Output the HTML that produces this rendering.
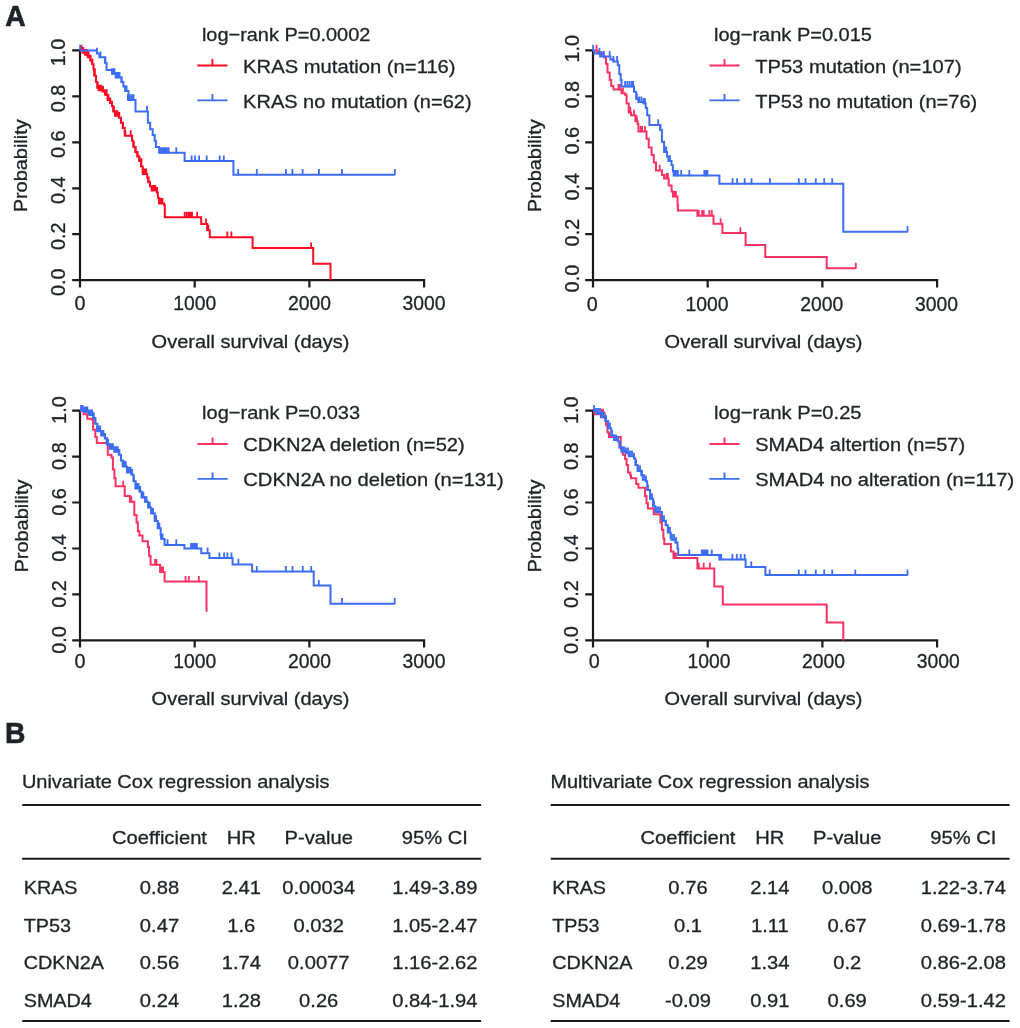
<!DOCTYPE html>
<html lang="en">
<head>
<meta charset="utf-8">
<title>Figure</title>
<style>
html,body{margin:0;padding:0;background:#fff;}
body{width:1020px;height:1028px;overflow:hidden;}
svg{display:block;}
text{white-space:pre;}
</style>
</head>
<body>
<svg width="1020" height="1028" viewBox="0 0 1020 1028" font-family="'Liberation Sans', sans-serif" font-size="19.5" fill="#1e2326" stroke="#1e2326" stroke-width="0.3">
<rect width="1020" height="1028" fill="#ffffff" stroke="none"/>
<text x="5.2" y="25.5" font-size="29.6" font-weight="bold" textLength="20.4" lengthAdjust="spacingAndGlyphs" stroke-width="0.7">A</text>
<text x="5.0" y="742.8" font-size="29.4" font-weight="bold" textLength="20.4" lengthAdjust="spacingAndGlyphs" stroke-width="0.7">B</text>
<path d="M80.0 49.3V281.3M78.9 280.2H425.2M80.0 280.2h-7.8M80.0 234.2h-7.8M80.0 188.3h-7.8M80.0 142.3h-7.8M80.0 96.4h-7.8M80.0 50.4h-7.8M80.0 280.2v7.2M194.7 280.2v7.2M309.4 280.2v7.2M424.1 280.2v7.2" fill="none" stroke="#1a1a1a" stroke-width="2.2" stroke-linecap="butt"/>
<text x="64.7" y="282.2" text-anchor="middle" textLength="27.6" lengthAdjust="spacingAndGlyphs" transform="rotate(-90 64.7 282.2)">0.0</text>
<text x="64.7" y="236.2" text-anchor="middle" textLength="27.6" lengthAdjust="spacingAndGlyphs" transform="rotate(-90 64.7 236.2)">0.2</text>
<text x="64.7" y="190.3" text-anchor="middle" textLength="27.6" lengthAdjust="spacingAndGlyphs" transform="rotate(-90 64.7 190.3)">0.4</text>
<text x="64.7" y="144.3" text-anchor="middle" textLength="27.6" lengthAdjust="spacingAndGlyphs" transform="rotate(-90 64.7 144.3)">0.6</text>
<text x="64.7" y="98.4" text-anchor="middle" textLength="27.6" lengthAdjust="spacingAndGlyphs" transform="rotate(-90 64.7 98.4)">0.8</text>
<text x="64.7" y="52.4" text-anchor="middle" textLength="27.6" lengthAdjust="spacingAndGlyphs" transform="rotate(-90 64.7 52.4)">1.0</text>
<text x="80.0" y="310.0" text-anchor="middle" textLength="11.0" lengthAdjust="spacingAndGlyphs">0</text>
<text x="194.7" y="310.0" text-anchor="middle" textLength="43.0" lengthAdjust="spacingAndGlyphs">1000</text>
<text x="309.4" y="310.0" text-anchor="middle" textLength="43.0" lengthAdjust="spacingAndGlyphs">2000</text>
<text x="424.1" y="310.0" text-anchor="middle" textLength="43.0" lengthAdjust="spacingAndGlyphs">3000</text>
<text x="250.5" y="347.5" text-anchor="middle" font-size="18.4" textLength="197.8" lengthAdjust="spacingAndGlyphs">Overall survival (days)</text>
<text x="27.4" y="165.8" text-anchor="middle" font-size="19.0" textLength="93.0" lengthAdjust="spacingAndGlyphs" transform="rotate(-90 27.4 165.8)">Probability</text>
<path d="M80.0 50.4H82.6V52.7H85.2V54.7H87.7V57.2H90.3V60.4H92.2V64.2H93.5V69.3H94.8V75.7H96.0V82.1H97.3V87.8H98.6V90.3H102.4V91.6H105.6V94.8H107.5V99.9H110.0V103.1H112.0V106.3H113.2V111.4H115.1V115.8H119.0V117.7H120.9V122.8H122.8V127.9H124.7V131.8H125.3V135.8H132.1V140.7H133.4V147.1H135.5V152.2H137.5V156.6H139.4V161.1H141.3V166.2H141.3V158.2H141.3V166.5H142.8V174.0H147.2V177.4H148.6V182.3H150.0V186.4H151.8V190.5H156.8V192.5H157.9V198.0H159.3V203.5H164.1V204.9H164.8V217.3H201.2V224.1H207.3V230.3H209.8V237.2H252.6V248.1H313.2V263.8H330.5V280.2" fill="none" stroke="#ff0a24" stroke-width="2.0" stroke-linejoin="miter"/>
<path d="M81.5 51.0v-6.2M83.3 53.3v-6.2M85.1 55.3v-6.2M86.9 55.3v-6.2M88.7 57.8v-6.2M90.5 61.0v-6.2M92.3 64.8v-6.2M94.1 76.3v-6.2M95.9 82.7v-6.2M97.7 88.4v-6.2M99.5 90.9v-6.2M101.3 90.9v-6.2M103.1 92.2v-6.2M104.9 95.4v-6.2M106.7 95.4v-6.2M108.5 100.5v-6.2M110.3 103.7v-6.2M112.1 106.9v-6.2M113.9 112.0v-6.2M115.7 116.4v-6.2M117.5 116.4v-6.2M119.3 118.3v-6.2M121.1 123.4v-6.2M122.9 128.5v-6.2M124.7 136.4v-6.2M130.7 136.4v-6.2M131.9 141.3v-6.2M133.7 147.7v-6.2M135.5 152.8v-6.2M137.3 157.2v-6.2M139.1 161.7v-6.2M140.9 167.1v-6.2M142.7 174.6v-6.2M144.5 174.6v-6.2M146.3 174.6v-6.2M146.3 174.6v-6.2M148.1 182.9v-6.2M149.9 187.0v-6.2M151.7 191.1v-6.2M153.5 191.1v-6.2M155.3 191.1v-6.2M157.1 193.1v-6.2M158.9 204.1v-6.2M160.7 204.1v-6.2M162.5 204.1v-6.2M184.7 217.9v-6.2M186.8 217.9v-6.2M188.8 217.9v-6.2M189.8 217.9v-6.2M190.9 217.9v-6.2M192.0 217.9v-6.2M197.1 217.9v-6.2M206.0 224.7v-6.2M207.3 230.9v-6.2M208.4 230.9v-6.2M227.3 237.8v-6.2M231.4 237.8v-6.2M311.1 248.7v-6.2" fill="none" stroke="#ff0a24" stroke-width="1.8"/>
<path d="M80.0 50.4H96.9V53.4H99.5V57.2H105.3V62.9H106.6V70.0H112.0V73.8H115.8V77.6H121.5V82.1H123.4V86.5H125.3V91.0H128.5V99.9H135.5V111.4H147.9V122.8H150.2V129.2H152.7V135.0H154.7V140.7H155.9V147.1H159.1V152.8H184.6V161.1H233.4V174.7H394.8" fill="none" stroke="#3d6df5" stroke-width="2.0" stroke-linejoin="miter"/>
<path d="M80.1 51.0v-6.2M96.9 54.0v-6.2M100.5 57.8v-6.2M105.0 63.5v-6.2M112.0 74.4v-6.2M113.2 74.4v-6.2M114.5 74.4v-6.2M115.8 78.2v-6.2M117.1 78.2v-6.2M118.3 78.2v-6.2M119.6 78.2v-6.2M121.5 82.7v-6.2M125.3 91.6v-6.2M126.6 91.6v-6.2M127.9 100.5v-6.2M129.8 100.5v-6.2M131.7 100.5v-6.2M133.6 100.5v-6.2M147.0 112.0v-6.2M160.4 153.4v-6.2M161.7 153.4v-6.2M162.9 153.4v-6.2M164.2 153.4v-6.2M165.5 153.4v-6.2M166.8 153.4v-6.2M168.7 153.4v-6.2M176.3 153.4v-6.2M191.6 161.7v-6.2M195.0 161.7v-6.2M199.1 161.7v-6.2M206.7 161.7v-6.2M219.7 161.7v-6.2M223.8 161.7v-6.2M238.2 175.3v-6.2M256.8 175.3v-6.2M285.9 175.3v-6.2M292.4 175.3v-6.2M302.6 175.3v-6.2M318.9 175.3v-6.2M342.0 175.3v-6.2M394.8 175.3v-6.2" fill="none" stroke="#3d6df5" stroke-width="1.8"/>
<text x="201.9" y="41.3" font-size="19.0" textLength="168.5" lengthAdjust="spacingAndGlyphs">log−rank P=0.0002</text>
<path d="M197.3 65.5h30.2M212.4 66.1v-7" fill="none" stroke="#ff0a24" stroke-width="1.9"/>
<path d="M197.3 100.4h30.2M212.4 101.0v-7" fill="none" stroke="#3d6df5" stroke-width="1.9"/>
<text x="243.1" y="72.7" font-size="19.0" textLength="212.5" lengthAdjust="spacingAndGlyphs">KRAS mutation (n=116)</text>
<text x="243.1" y="107.6" font-size="19.0" textLength="228.5" lengthAdjust="spacingAndGlyphs">KRAS no mutation (n=62)</text>
<path d="M593.0 49.3V281.3M591.9 280.2H938.2M593.0 280.2h-7.8M593.0 234.2h-7.8M593.0 188.3h-7.8M593.0 142.3h-7.8M593.0 96.4h-7.8M593.0 50.4h-7.8M593.0 280.2v7.2M707.7 280.2v7.2M822.4 280.2v7.2M937.1 280.2v7.2" fill="none" stroke="#1a1a1a" stroke-width="2.2" stroke-linecap="butt"/>
<text x="579.0" y="278.6" text-anchor="middle" textLength="27.6" lengthAdjust="spacingAndGlyphs" transform="rotate(-90 579.0 278.6)">0.0</text>
<text x="579.0" y="232.6" text-anchor="middle" textLength="27.6" lengthAdjust="spacingAndGlyphs" transform="rotate(-90 579.0 232.6)">0.2</text>
<text x="579.0" y="186.7" text-anchor="middle" textLength="27.6" lengthAdjust="spacingAndGlyphs" transform="rotate(-90 579.0 186.7)">0.4</text>
<text x="579.0" y="140.7" text-anchor="middle" textLength="27.6" lengthAdjust="spacingAndGlyphs" transform="rotate(-90 579.0 140.7)">0.6</text>
<text x="579.0" y="94.8" text-anchor="middle" textLength="27.6" lengthAdjust="spacingAndGlyphs" transform="rotate(-90 579.0 94.8)">0.8</text>
<text x="579.0" y="48.8" text-anchor="middle" textLength="27.6" lengthAdjust="spacingAndGlyphs" transform="rotate(-90 579.0 48.8)">1.0</text>
<text x="592.3" y="311.2" text-anchor="middle" textLength="11.0" lengthAdjust="spacingAndGlyphs">0</text>
<text x="707.0" y="311.2" text-anchor="middle" textLength="43.0" lengthAdjust="spacingAndGlyphs">1000</text>
<text x="821.7" y="311.2" text-anchor="middle" textLength="43.0" lengthAdjust="spacingAndGlyphs">2000</text>
<text x="936.4" y="311.2" text-anchor="middle" textLength="43.0" lengthAdjust="spacingAndGlyphs">3000</text>
<text x="763.5" y="347.5" text-anchor="middle" font-size="18.4" textLength="197.8" lengthAdjust="spacingAndGlyphs">Overall survival (days)</text>
<text x="540.9" y="165.8" text-anchor="middle" font-size="19.0" textLength="93.0" lengthAdjust="spacingAndGlyphs" transform="rotate(-90 540.9 165.8)">Probability</text>
<path d="M593.0 50.4H597.2V52.1H599.4V53.5H603.8V57.2H606.0V63.8H607.5V72.6H609.7V80.0H611.2V85.9H613.4V89.6H621.5V93.2H625.1V94.7H626.6V103.5H628.8V112.4H631.0V115.3H635.4V121.2H637.6V124.1H638.4V131.5H646.5V138.8H648.7V147.6H651.6V155.0H653.8V162.4H656.0V170.4H661.9V174.9H664.1V178.5H668.7V185.6H671.6V191.5H673.1V196.6H677.5V204.7H677.9V210.6H697.4V215.7H713.5V223.8H722.4V232.9H745.6V245.1H765.3V256.9H826.7V268.3H855.8" fill="none" stroke="#fa3263" stroke-width="2.0" stroke-linejoin="miter"/>
<path d="M596.5 51.0v-6.2M618.5 90.2v-6.2M620.0 90.2v-6.2M622.9 93.8v-6.2M628.8 113.0v-6.2M630.3 113.0v-6.2M634.0 115.9v-6.2M636.9 121.8v-6.2M640.6 132.1v-6.2M642.1 132.1v-6.2M645.0 132.1v-6.2M659.7 171.0v-6.2M666.5 179.1v-6.2M667.9 179.1v-6.2M673.1 197.2v-6.2M674.6 197.2v-6.2M676.0 197.2v-6.2M698.8 216.3v-6.2M702.1 216.3v-6.2M703.7 216.3v-6.2M709.4 216.3v-6.2M711.8 216.3v-6.2M720.6 224.4v-6.2M740.4 233.5v-6.2M855.8 268.9v-6.2" fill="none" stroke="#fa3263" stroke-width="1.8"/>
<path d="M593.0 50.4H594.3V53.5H600.1V56.5H610.4V59.4H613.4V61.6H617.8V65.3H619.3V74.1H620.7V80.0H621.5V86.6H634.0V91.8H636.2V99.1H638.4V102.1H643.5V103.5H645.7V107.9H647.2V115.3H649.4V124.9H660.4V130.0H661.9V141.8H664.1V152.1H667.1V156.5H668.5V160.9H671.5V165.3H672.9V171.2H673.7V175.6H719.4V183.8H843.3V231.7H907.5" fill="none" stroke="#3d6df5" stroke-width="2.0" stroke-linejoin="miter"/>
<path d="M593.1 51.0v-6.2M599.4 54.1v-6.2M601.6 57.1v-6.2M603.8 57.1v-6.2M609.7 57.1v-6.2M613.4 62.2v-6.2M617.1 62.2v-6.2M625.1 87.2v-6.2M627.4 87.2v-6.2M629.6 87.2v-6.2M631.8 87.2v-6.2M633.2 87.2v-6.2M636.9 99.7v-6.2M639.1 102.7v-6.2M641.3 102.7v-6.2M643.5 104.1v-6.2M645.0 104.1v-6.2M658.2 125.5v-6.2M660.0 130.6v-6.2M664.9 152.7v-6.2M666.3 152.7v-6.2M670.0 161.5v-6.2M674.6 176.2v-6.2M676.0 176.2v-6.2M677.9 176.2v-6.2M681.2 176.2v-6.2M689.3 176.2v-6.2M704.3 176.2v-6.2M705.7 176.2v-6.2M707.4 176.2v-6.2M732.6 184.4v-6.2M737.1 184.4v-6.2M744.7 184.4v-6.2M751.5 184.4v-6.2M769.9 184.4v-6.2M798.8 184.4v-6.2M805.5 184.4v-6.2M815.8 184.4v-6.2M824.2 184.4v-6.2M832.2 184.4v-6.2M907.5 232.3v-6.2" fill="none" stroke="#3d6df5" stroke-width="1.8"/>
<text x="714.0" y="41.3" font-size="19.0" textLength="158.0" lengthAdjust="spacingAndGlyphs">log−rank P=0.015</text>
<path d="M709.4 65.5h30.2M724.5 66.1v-7" fill="none" stroke="#fa3263" stroke-width="1.9"/>
<path d="M709.4 100.4h30.2M724.5 101.0v-7" fill="none" stroke="#3d6df5" stroke-width="1.9"/>
<text x="755.2" y="72.7" font-size="19.0" textLength="206.5" lengthAdjust="spacingAndGlyphs">TP53 mutation (n=107)</text>
<text x="755.2" y="107.6" font-size="19.0" textLength="222.0" lengthAdjust="spacingAndGlyphs">TP53 no mutation (n=76)</text>
<path d="M80.0 409.5V641.5M78.9 640.4H425.2M80.0 640.4h-7.8M80.0 594.4h-7.8M80.0 548.5h-7.8M80.0 502.5h-7.8M80.0 456.6h-7.8M80.0 410.6h-7.8M80.0 640.4v7.2M194.7 640.4v7.2M309.4 640.4v7.2M424.1 640.4v7.2" fill="none" stroke="#1a1a1a" stroke-width="2.2" stroke-linecap="butt"/>
<text x="66.1" y="639.9" text-anchor="middle" textLength="27.6" lengthAdjust="spacingAndGlyphs" transform="rotate(-90 66.1 639.9)">0.0</text>
<text x="66.1" y="593.9" text-anchor="middle" textLength="27.6" lengthAdjust="spacingAndGlyphs" transform="rotate(-90 66.1 593.9)">0.2</text>
<text x="66.1" y="548.0" text-anchor="middle" textLength="27.6" lengthAdjust="spacingAndGlyphs" transform="rotate(-90 66.1 548.0)">0.4</text>
<text x="66.1" y="502.0" text-anchor="middle" textLength="27.6" lengthAdjust="spacingAndGlyphs" transform="rotate(-90 66.1 502.0)">0.6</text>
<text x="66.1" y="456.1" text-anchor="middle" textLength="27.6" lengthAdjust="spacingAndGlyphs" transform="rotate(-90 66.1 456.1)">0.8</text>
<text x="66.1" y="410.1" text-anchor="middle" textLength="27.6" lengthAdjust="spacingAndGlyphs" transform="rotate(-90 66.1 410.1)">1.0</text>
<text x="80.0" y="667.5" text-anchor="middle" textLength="11.0" lengthAdjust="spacingAndGlyphs">0</text>
<text x="194.7" y="667.5" text-anchor="middle" textLength="43.0" lengthAdjust="spacingAndGlyphs">1000</text>
<text x="309.4" y="667.5" text-anchor="middle" textLength="43.0" lengthAdjust="spacingAndGlyphs">2000</text>
<text x="424.1" y="667.5" text-anchor="middle" textLength="43.0" lengthAdjust="spacingAndGlyphs">3000</text>
<text x="250.5" y="704.5" text-anchor="middle" font-size="18.4" textLength="197.8" lengthAdjust="spacingAndGlyphs">Overall survival (days)</text>
<text x="27.9" y="526.0" text-anchor="middle" font-size="19.0" textLength="93.0" lengthAdjust="spacingAndGlyphs" transform="rotate(-90 27.9 526.0)">Probability</text>
<path d="M80.0 410.6H83.5V414.3H87.2V418.7H91.6V419.4H93.1V429.7H95.3V437.1H96.8V442.9H107.8V454.7H111.5V457.6H112.9V469.4H114.4V478.2H115.6V486.3H124.7V495.9H129.9V501.8H134.3V515.0H136.5V522.4H137.9V531.2H139.4V535.6H142.5V541.2H147.9V547.1H149.1V555.9H150.6V564.7H160.1V572.1H164.6V581.6H206.5V611.8" fill="none" stroke="#fa3263" stroke-width="2.0" stroke-linejoin="miter"/>
<path d="M107.1 443.5v-6.2M123.2 486.9v-6.2M131.3 502.4v-6.2M155.0 565.3v-6.2M156.5 565.3v-6.2M161.6 572.7v-6.2M163.1 572.7v-6.2M185.6 582.2v-6.2M188.8 582.2v-6.2M198.8 582.2v-6.2" fill="none" stroke="#fa3263" stroke-width="1.8"/>
<path d="M80.0 410.6H84.3V412.1H89.4V415.0H93.1V417.9H95.3V423.8H97.5V431.2H101.2V435.6H104.9V438.5H107.1V444.4H110.0V448.8H114.4V451.8H118.8V454.7H121.0V460.6H123.2V466.5H126.9V472.4H131.3V474.6H133.5V481.2H135.7V488.5H139.4V491.5H141.6V497.4H145.3V501.8H148.2V507.6H151.2V513.5H154.9V520.9H157.8V528.2H160.7V535.6H161.6V539.0H164.6V544.9H184.4V548.5H201.3V553.2H209.4V558.1H232.6V564.4H252.1V571.6H313.7V585.5H330.5V603.7H394.7" fill="none" stroke="#3d6df5" stroke-width="2.0" stroke-linejoin="miter"/>
<path d="M81.0 411.2v-6.2M82.6 411.2v-6.2M84.2 412.7v-6.2M85.8 412.7v-6.2M87.4 412.7v-6.2M89.0 415.6v-6.2M90.6 415.6v-6.2M92.2 415.6v-6.2M93.8 418.5v-6.2M95.4 424.4v-6.2M97.0 431.8v-6.2M98.6 431.8v-6.2M100.2 431.8v-6.2M101.8 436.2v-6.2M103.4 436.2v-6.2M105.0 439.1v-6.2M106.6 445.0v-6.2M108.2 445.0v-6.2M109.8 449.4v-6.2M111.4 449.4v-6.2M113.0 449.4v-6.2M114.6 452.4v-6.2M116.2 452.4v-6.2M117.8 452.4v-6.2M119.4 455.3v-6.2M121.0 461.2v-6.2M122.6 467.1v-6.2M124.2 467.1v-6.2M125.8 467.1v-6.2M127.4 473.0v-6.2M129.0 473.0v-6.2M130.6 473.0v-6.2M132.2 475.2v-6.2M133.8 481.8v-6.2M135.4 489.1v-6.2M137.0 489.1v-6.2M138.6 489.1v-6.2M140.2 492.1v-6.2M141.8 498.0v-6.2M143.4 498.0v-6.2M145.0 502.4v-6.2M146.6 502.4v-6.2M148.2 508.2v-6.2M149.8 508.2v-6.2M151.4 514.1v-6.2M153.0 514.1v-6.2M154.6 521.5v-6.2M156.2 521.5v-6.2M157.8 528.8v-6.2M159.4 528.8v-6.2M161.0 539.6v-6.2M162.6 539.6v-6.2M167.5 545.5v-6.2M176.3 545.5v-6.2M191.0 549.1v-6.2M192.5 549.1v-6.2M194.0 549.1v-6.2M195.4 549.1v-6.2M196.9 549.1v-6.2M207.6 553.8v-6.2M219.4 558.7v-6.2M224.1 558.7v-6.2M227.4 558.7v-6.2M231.5 558.7v-6.2M238.4 565.0v-6.2M256.8 572.2v-6.2M285.8 572.2v-6.2M292.5 572.2v-6.2M302.8 572.2v-6.2M311.2 572.2v-6.2M318.8 586.1v-6.2M342.0 604.3v-6.2M394.7 604.3v-6.2" fill="none" stroke="#3d6df5" stroke-width="1.8"/>
<text x="202.1" y="419.3" font-size="19.0" textLength="158.0" lengthAdjust="spacingAndGlyphs">log−rank P=0.033</text>
<path d="M197.5 444.0h30.2M212.6 444.6v-7" fill="none" stroke="#fa3263" stroke-width="1.9"/>
<path d="M197.5 478.9h30.2M212.6 479.5v-7" fill="none" stroke="#3d6df5" stroke-width="1.9"/>
<text x="243.3" y="451.2" font-size="19.0" textLength="221.5" lengthAdjust="spacingAndGlyphs">CDKN2A deletion (n=52)</text>
<text x="243.3" y="486.1" font-size="19.0" textLength="260.5" lengthAdjust="spacingAndGlyphs">CDKN2A no deletion (n=131)</text>
<path d="M593.0 409.5V641.5M591.9 640.4H938.2M593.0 640.4h-7.8M593.0 594.4h-7.8M593.0 548.5h-7.8M593.0 502.5h-7.8M593.0 456.6h-7.8M593.0 410.6h-7.8M593.0 640.4v7.2M707.7 640.4v7.2M822.4 640.4v7.2M937.1 640.4v7.2" fill="none" stroke="#1a1a1a" stroke-width="2.2" stroke-linecap="butt"/>
<text x="577.6" y="640.1" text-anchor="middle" textLength="27.6" lengthAdjust="spacingAndGlyphs" transform="rotate(-90 577.6 640.1)">0.0</text>
<text x="577.6" y="594.1" text-anchor="middle" textLength="27.6" lengthAdjust="spacingAndGlyphs" transform="rotate(-90 577.6 594.1)">0.2</text>
<text x="577.6" y="548.2" text-anchor="middle" textLength="27.6" lengthAdjust="spacingAndGlyphs" transform="rotate(-90 577.6 548.2)">0.4</text>
<text x="577.6" y="502.2" text-anchor="middle" textLength="27.6" lengthAdjust="spacingAndGlyphs" transform="rotate(-90 577.6 502.2)">0.6</text>
<text x="577.6" y="456.3" text-anchor="middle" textLength="27.6" lengthAdjust="spacingAndGlyphs" transform="rotate(-90 577.6 456.3)">0.8</text>
<text x="577.6" y="410.3" text-anchor="middle" textLength="27.6" lengthAdjust="spacingAndGlyphs" transform="rotate(-90 577.6 410.3)">1.0</text>
<text x="594.2" y="667.9" text-anchor="middle" textLength="11.0" lengthAdjust="spacingAndGlyphs">0</text>
<text x="708.9" y="667.9" text-anchor="middle" textLength="43.0" lengthAdjust="spacingAndGlyphs">1000</text>
<text x="823.6" y="667.9" text-anchor="middle" textLength="43.0" lengthAdjust="spacingAndGlyphs">2000</text>
<text x="938.3" y="667.9" text-anchor="middle" textLength="43.0" lengthAdjust="spacingAndGlyphs">3000</text>
<text x="763.5" y="704.5" text-anchor="middle" font-size="18.4" textLength="197.8" lengthAdjust="spacingAndGlyphs">Overall survival (days)</text>
<text x="540.9" y="526.0" text-anchor="middle" font-size="19.0" textLength="93.0" lengthAdjust="spacingAndGlyphs" transform="rotate(-90 540.9 526.0)">Probability</text>
<path d="M593.0 410.6H594.3V414.3H604.6V417.9H606.0V425.3H607.5V432.6H609.0V437.1H620.7V448.8H622.9V454.7H625.1V459.1H626.6V465.0H628.1V472.4H630.3V475.3H631.0V478.2H636.2V484.1H638.4V487.8H645.0V495.9H646.5V503.2H647.9V508.4H653.8V514.3H660.4V522.4H661.9V529.7H663.4V538.5H664.3V544.1H670.9V551.5H673.5V558.1H697.4V568.4H714.3V586.5H722.8V604.4H826.7V622.5H843.3V640.5" fill="none" stroke="#fa3263" stroke-width="2.0" stroke-linejoin="miter"/>
<path d="M601.6 414.9v-6.2M603.1 414.9v-6.2M604.6 418.5v-6.2M674.6 558.7v-6.2M676.0 558.7v-6.2M698.8 569.0v-6.2M703.7 569.0v-6.2M709.9 569.0v-6.2" fill="none" stroke="#fa3263" stroke-width="1.8"/>
<path d="M593.0 410.6H596.5V413.5H600.9V417.2H605.3V420.9H608.2V428.2H611.2V435.6H614.1V440.0H617.8V441.5H619.3V447.4H621.5V451.8H625.9V453.2H628.8V456.2H634.0V458.4H635.4V465.0H637.6V470.9H641.3V475.3H642.8V479.7H645.7V481.2H647.2V490.0H650.1V498.8H653.1V506.2H655.3V512.1H661.9V520.9H665.6V525.3H667.8V532.6H670.7V538.5H671.6V539.7H675.3V542.6H677.5V548.5H678.2V555.1H719.4V559.6H745.6V566.9H765.4V575.0H907.5" fill="none" stroke="#3d6df5" stroke-width="2.0" stroke-linejoin="miter"/>
<path d="M594.0 411.2v-6.2M596.0 414.1v-6.2M598.0 414.1v-6.2M600.0 414.1v-6.2M602.0 417.8v-6.2M604.0 417.8v-6.2M606.0 421.5v-6.2M608.0 428.8v-6.2M610.0 428.8v-6.2M612.0 436.2v-6.2M614.0 440.6v-6.2M616.0 440.6v-6.2M618.0 442.1v-6.2M620.0 448.0v-6.2M622.0 452.4v-6.2M624.0 452.4v-6.2M626.0 453.8v-6.2M628.0 453.8v-6.2M630.0 456.8v-6.2M632.0 456.8v-6.2M634.0 459.0v-6.2M636.0 465.6v-6.2M638.0 471.5v-6.2M640.0 471.5v-6.2M642.0 475.9v-6.2M644.0 480.3v-6.2M646.0 481.8v-6.2M648.0 490.6v-6.2M650.0 499.4v-6.2M652.0 499.4v-6.2M654.0 506.8v-6.2M656.0 512.7v-6.2M658.0 512.7v-6.2M660.0 512.7v-6.2M662.0 521.5v-6.2M664.0 521.5v-6.2M666.0 525.9v-6.2M668.0 533.2v-6.2M670.0 533.2v-6.2M672.0 540.3v-6.2M674.0 540.3v-6.2M676.0 543.2v-6.2M689.3 555.7v-6.2M701.8 555.7v-6.2M703.2 555.7v-6.2M704.7 555.7v-6.2M706.2 555.7v-6.2M707.6 555.7v-6.2M711.8 555.7v-6.2M720.1 560.2v-6.2M721.2 560.2v-6.2M732.4 560.2v-6.2M736.8 560.2v-6.2M740.7 560.2v-6.2M744.7 560.2v-6.2M751.3 567.5v-6.2M769.7 575.6v-6.2M798.8 575.6v-6.2M805.5 575.6v-6.2M815.8 575.6v-6.2M824.2 575.6v-6.2M832.2 575.6v-6.2M855.3 575.6v-6.2M907.5 575.6v-6.2" fill="none" stroke="#3d6df5" stroke-width="1.8"/>
<text x="714.0" y="419.3" font-size="19.0" textLength="147.5" lengthAdjust="spacingAndGlyphs">log−rank P=0.25</text>
<path d="M709.4 444.0h30.2M724.5 444.6v-7" fill="none" stroke="#fa3263" stroke-width="1.9"/>
<path d="M709.4 478.9h30.2M724.5 479.5v-7" fill="none" stroke="#3d6df5" stroke-width="1.9"/>
<text x="755.2" y="451.2" font-size="19.0" textLength="210.0" lengthAdjust="spacingAndGlyphs">SMAD4 altertion (n=57)</text>
<text x="755.2" y="486.1" font-size="19.0" textLength="259.0" lengthAdjust="spacingAndGlyphs">SMAD4 no alteration (n=117)</text>
<text x="21.9" y="788.4" font-size="18.5" textLength="307.5" lengthAdjust="spacingAndGlyphs">Univariate Cox regression analysis</text>
<path d="M22.2 804.9H481.1" stroke="#1a1a1a" stroke-width="2" fill="none"/>
<path d="M22.2 858.7H481.1" stroke="#1a1a1a" stroke-width="2" fill="none"/>
<path d="M22.2 1021.1H481.1" stroke="#1a1a1a" stroke-width="2" fill="none"/>
<text transform="translate(159.5 843.8) scale(1.097 1)" text-anchor="middle" font-size="18.4">Coefficient</text>
<text transform="translate(241.3 843.8) scale(1.097 1)" text-anchor="middle" font-size="18.4">HR</text>
<text transform="translate(318.7 843.8) scale(1.097 1)" text-anchor="middle" font-size="18.4">P-value</text>
<text transform="translate(434.8 843.8) scale(1.097 1)" text-anchor="middle" font-size="18.4">95% CI</text>
<text transform="translate(23.7 894.4) scale(1.075 1)" font-size="18.4">KRAS</text>
<text transform="translate(159.5 894.4) scale(1.097 1)" text-anchor="middle" font-size="18.4">0.88</text>
<text transform="translate(241.3 894.4) scale(1.097 1)" text-anchor="middle" font-size="18.4">2.41</text>
<text transform="translate(318.7 894.4) scale(1.097 1)" text-anchor="middle" font-size="18.4">0.00034</text>
<text transform="translate(434.8 894.4) scale(1.097 1)" text-anchor="middle" font-size="18.4">1.49-3.89</text>
<text transform="translate(23.7 931.7) scale(1.075 1)" font-size="18.4">TP53</text>
<text transform="translate(159.5 931.7) scale(1.097 1)" text-anchor="middle" font-size="18.4">0.47</text>
<text transform="translate(241.3 931.7) scale(1.097 1)" text-anchor="middle" font-size="18.4">1.6</text>
<text transform="translate(318.7 931.7) scale(1.097 1)" text-anchor="middle" font-size="18.4">0.032</text>
<text transform="translate(434.8 931.7) scale(1.097 1)" text-anchor="middle" font-size="18.4">1.05-2.47</text>
<text transform="translate(23.7 969.4) scale(1.075 1)" font-size="18.4">CDKN2A</text>
<text transform="translate(159.5 969.4) scale(1.097 1)" text-anchor="middle" font-size="18.4">0.56</text>
<text transform="translate(241.3 969.4) scale(1.097 1)" text-anchor="middle" font-size="18.4">1.74</text>
<text transform="translate(318.7 969.4) scale(1.097 1)" text-anchor="middle" font-size="18.4">0.0077</text>
<text transform="translate(434.8 969.4) scale(1.097 1)" text-anchor="middle" font-size="18.4">1.16-2.62</text>
<text transform="translate(23.7 1007.0) scale(1.075 1)" font-size="18.4">SMAD4</text>
<text transform="translate(159.5 1007.0) scale(1.097 1)" text-anchor="middle" font-size="18.4">0.24</text>
<text transform="translate(241.3 1007.0) scale(1.097 1)" text-anchor="middle" font-size="18.4">1.28</text>
<text transform="translate(318.7 1007.0) scale(1.097 1)" text-anchor="middle" font-size="18.4">0.26</text>
<text transform="translate(434.8 1007.0) scale(1.097 1)" text-anchor="middle" font-size="18.4">0.84-1.94</text>
<text x="550.4" y="788.4" font-size="18.5" textLength="319.0" lengthAdjust="spacingAndGlyphs">Multivariate Cox regression analysis</text>
<path d="M550.7 804.9H1009.6" stroke="#1a1a1a" stroke-width="2" fill="none"/>
<path d="M550.7 858.7H1009.6" stroke="#1a1a1a" stroke-width="2" fill="none"/>
<path d="M550.7 1021.1H1009.6" stroke="#1a1a1a" stroke-width="2" fill="none"/>
<text transform="translate(688.0 843.8) scale(1.097 1)" text-anchor="middle" font-size="18.4">Coefficient</text>
<text transform="translate(769.8 843.8) scale(1.097 1)" text-anchor="middle" font-size="18.4">HR</text>
<text transform="translate(847.2 843.8) scale(1.097 1)" text-anchor="middle" font-size="18.4">P-value</text>
<text transform="translate(963.3 843.8) scale(1.097 1)" text-anchor="middle" font-size="18.4">95% CI</text>
<text transform="translate(552.2 894.4) scale(1.075 1)" font-size="18.4">KRAS</text>
<text transform="translate(688.0 894.4) scale(1.097 1)" text-anchor="middle" font-size="18.4">0.76</text>
<text transform="translate(769.8 894.4) scale(1.097 1)" text-anchor="middle" font-size="18.4">2.14</text>
<text transform="translate(847.2 894.4) scale(1.097 1)" text-anchor="middle" font-size="18.4">0.008</text>
<text transform="translate(963.3 894.4) scale(1.097 1)" text-anchor="middle" font-size="18.4">1.22-3.74</text>
<text transform="translate(552.2 931.7) scale(1.075 1)" font-size="18.4">TP53</text>
<text transform="translate(688.0 931.7) scale(1.097 1)" text-anchor="middle" font-size="18.4">0.1</text>
<text transform="translate(769.8 931.7) scale(1.097 1)" text-anchor="middle" font-size="18.4">1.11</text>
<text transform="translate(847.2 931.7) scale(1.097 1)" text-anchor="middle" font-size="18.4">0.67</text>
<text transform="translate(963.3 931.7) scale(1.097 1)" text-anchor="middle" font-size="18.4">0.69-1.78</text>
<text transform="translate(552.2 969.4) scale(1.075 1)" font-size="18.4">CDKN2A</text>
<text transform="translate(688.0 969.4) scale(1.097 1)" text-anchor="middle" font-size="18.4">0.29</text>
<text transform="translate(769.8 969.4) scale(1.097 1)" text-anchor="middle" font-size="18.4">1.34</text>
<text transform="translate(847.2 969.4) scale(1.097 1)" text-anchor="middle" font-size="18.4">0.2</text>
<text transform="translate(963.3 969.4) scale(1.097 1)" text-anchor="middle" font-size="18.4">0.86-2.08</text>
<text transform="translate(552.2 1007.0) scale(1.075 1)" font-size="18.4">SMAD4</text>
<text transform="translate(688.0 1007.0) scale(1.097 1)" text-anchor="middle" font-size="18.4">-0.09</text>
<text transform="translate(769.8 1007.0) scale(1.097 1)" text-anchor="middle" font-size="18.4">0.91</text>
<text transform="translate(847.2 1007.0) scale(1.097 1)" text-anchor="middle" font-size="18.4">0.69</text>
<text transform="translate(963.3 1007.0) scale(1.097 1)" text-anchor="middle" font-size="18.4">0.59-1.42</text>
</svg>
</body>
</html>
